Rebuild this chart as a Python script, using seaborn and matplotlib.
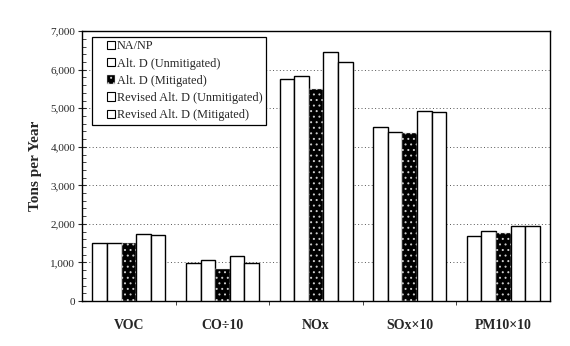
import matplotlib
matplotlib.use("Agg")
import matplotlib.pyplot as plt
import seaborn as sns
import pandas as pd
from matplotlib.patches import Patch, Rectangle
from matplotlib.legend_handler import HandlerPatch
from matplotlib.ticker import FuncFormatter, MultipleLocator

categories = ["VOC", "CO\u00f710", "NOx", "SOx\u00d710", "PM10\u00d710"]
series = ["NA/NP", "Alt. D (Unmitigated)", "Alt. D (Mitigated)",
          "Revised Alt. D (Unmitigated)", "Revised Alt. D (Mitigated)"]
na_np = [1510, 975, 5770, 4510, 1685]
alt_d_unmit = [1500, 1075, 5830, 4385, 1815]
alt_d_mit = [1495, 825, 5505, 4360, 1770]
rev_unmit = [1735, 1170, 6465, 4940, 1955]
rev_mit = [1710, 990, 6205, 4915, 1945]
yticks = [0, 1000, 2000, 3000, 4000, 5000, 6000, 7000]

values = [na_np, alt_d_unmit, alt_d_mit, rev_unmit, rev_mit]
rows = []
for s, vals in zip(series, values):
    for c, v in zip(categories, vals):
        rows.append({"cat": c, "series": s, "val": v})
df = pd.DataFrame(rows)

sns.set_style("ticks")
plt.rcParams["font.family"] = ["Liberation Serif", "DejaVu Serif"]
plt.rcParams["hatch.linewidth"] = 0.7

fig = plt.figure(figsize=(5.7, 3.46), dpi=100)
ax = fig.add_axes([0.144, 0.130, 0.821, 0.780])

palette = {s: "white" for s in series}
palette[series[2]] = "black"
sns.barplot(data=df, x="cat", y="val", hue="series", order=categories,
            hue_order=series, palette=palette, width=0.78, gap=0,
            edgecolor="black", linewidth=1.0, saturation=1, legend=False,
            errorbar=None, ax=ax, zorder=3)

for bar in ax.containers[2]:
    bar.set_hatch("...")
    bar.set_edgecolor("#cccccc")
    bar.set_linewidth(0.3)

ax.set_ylim(0, 7000)
ax.set_xlim(-0.5, 4.5)
ax.set_yticks(yticks)
ax.yaxis.set_major_formatter(FuncFormatter(lambda v, p: f"{int(v):,}"))
ax.yaxis.set_minor_locator(MultipleLocator(200))
ax.tick_params(axis="y", which="major", direction="inout", length=6, width=0.8,
               labelsize=8, pad=2)
ax.tick_params(axis="y", which="minor", direction="in", length=3, width=0.6)
ax.set_xticks(range(len(categories)))
ax.set_xticklabels(categories, fontsize=10, fontweight="bold")
ax.tick_params(axis="x", which="major", length=0, pad=13)
ax.set_xticks([0.5, 1.5, 2.5, 3.5], minor=True)
ax.tick_params(axis="x", which="minor", direction="out", length=3, width=0.6)
ax.set_xlabel("")
ax.set_ylabel("Tons per Year", fontsize=11, fontweight="bold", labelpad=6)

ax.yaxis.grid(True, linestyle=(0, (1, 2.5)), color="#555555", linewidth=0.7, zorder=0)
ax.set_axisbelow(True)
for sp in ax.spines.values():
    sp.set_visible(True)
    sp.set_linewidth(1.0)
    sp.set_color("black")


def small_square(legend, orig_handle, xdescent, ydescent, width, height, fontsize):
    s = 6.0
    return Rectangle((width - s - xdescent, (height - s) / 2 - ydescent), s, s)


handles = []
for i, s in enumerate(series):
    if i == 2:
        handles.append(Patch(facecolor="black", edgecolor="#cccccc", hatch="...", linewidth=0.3, label=s))
    else:
        handles.append(Patch(facecolor="white", edgecolor="black", linewidth=0.8, label=s))
leg = ax.legend(handles=handles, loc="upper left", bbox_to_anchor=(0.021, 0.979),
                fontsize=8.8, frameon=True, fancybox=False, framealpha=1,
                edgecolor="black", handlelength=1.6, handleheight=0.7,
                handletextpad=0.15, labelspacing=0.42, borderpad=0.3,
                borderaxespad=0.0,
                handler_map={Patch: HandlerPatch(patch_func=small_square)})
leg.get_frame().set_linewidth(0.9)
leg.set_zorder(5)

fig.savefig("out.png", dpi=100)
